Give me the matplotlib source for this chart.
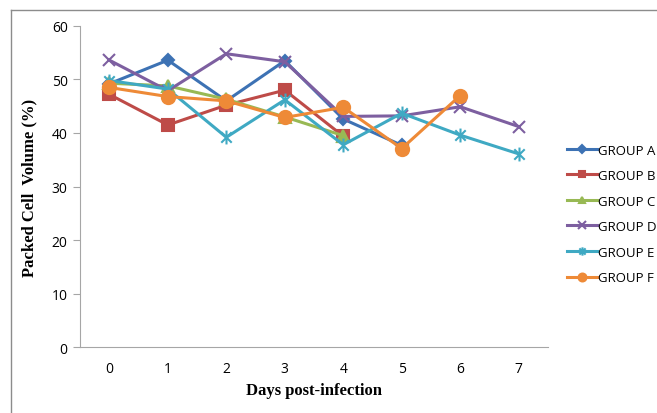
import matplotlib
matplotlib.use("Agg")
import matplotlib.pyplot as plt
from matplotlib.path import Path
from matplotlib.lines import Line2D

days = [0, 1, 2, 3, 4, 5, 6, 7]
group_names = ["GROUP A", "GROUP B", "GROUP C", "GROUP D", "GROUP E", "GROUP F"]
group_a = [49.2, 53.6, 46.0, 53.5, 42.6, 37.7]
group_b = [47.2, 41.5, 45.2, 48.0, 39.4]
group_c = [49.3, 48.8, 46.3, 43.0, 39.5]
group_d = [53.6, 47.9, 54.8, 53.3, 43.1, 43.2, 44.9, 41.2]
group_e = [49.8, 48.2, 39.2, 46.2, 37.8, 43.7, 39.6, 36.1]
group_f = [48.5, 46.8, 46.0, 42.9, 44.8, 37.1, 47.0]

# excel style asterisk: x plus a vertical bar
asterisk = Path([(0, -1), (0, 1), (-0.75, -0.75), (0.75, 0.75), (-0.75, 0.75), (0.75, -0.75)],
                [Path.MOVETO, Path.LINETO, Path.MOVETO, Path.LINETO, Path.MOVETO, Path.LINETO])

series = [group_a, group_b, group_c, group_d, group_e, group_f]
colors = ["#3D72B4", "#BE4B48", "#98B954", "#7D5FA0", "#3FA9C3", "#EE8A37"]
markers = ["D", "s", "^", "x", asterisk, "o"]
msizes = [6.5, 8, 8, 9, 10, 9.5]

fig = plt.figure(figsize=(6.57, 4.14), dpi=100)
ax = fig.add_axes([0.122, 0.159, 0.712, 0.776])

for vals, name, c, m, ms in zip(series, group_names, colors, markers, msizes):
    ax.plot(days[:len(vals)], vals, color=c, marker=m, markersize=ms, lw=2.2,
            markeredgewidth=1.5, label=name)

ax.set_xlim(-0.5, 7.5)
ax.set_ylim(0, 60)
ax.set_yticks(range(0, 61, 10))
ax.set_xticks(days)
for s in ["top", "right"]:
    ax.spines[s].set_visible(False)
for s in ["left", "bottom"]:
    ax.spines[s].set_color("#A6A6A6")
ax.tick_params(axis="y", color="#A6A6A6", length=5, labelsize=10, pad=4)
ax.tick_params(axis="x", length=0, labelsize=10, pad=10)
for lab in ax.get_xticklabels() + ax.get_yticklabels():
    lab.set_fontfamily("Open Sans")

ax.set_xlabel("Days post-infection", fontfamily="Liberation Serif", fontweight="bold",
              fontsize=12, labelpad=4)
ax.set_ylabel("Packed Cell  Volume (%)", fontfamily="Liberation Serif", fontweight="bold",
              fontsize=12, labelpad=10)

leg = ax.legend(loc="center left", bbox_to_anchor=(1.015, 0.415), frameon=False,
                prop={"family": "Open Sans", "size": 9.5}, handlelength=2.3,
                handletextpad=0.05, labelspacing=0.95, markerscale=0.6)

# outer frame of the original figure
fig.add_artist(Line2D([11 / 657, 11 / 657], [0, 1 - 11 / 414], color="#8C8C8C", lw=1))
fig.add_artist(Line2D([11 / 657, 1], [1 - 11 / 414, 1 - 11 / 414], color="#8C8C8C", lw=1))

fig.savefig("out.png", dpi=100)
